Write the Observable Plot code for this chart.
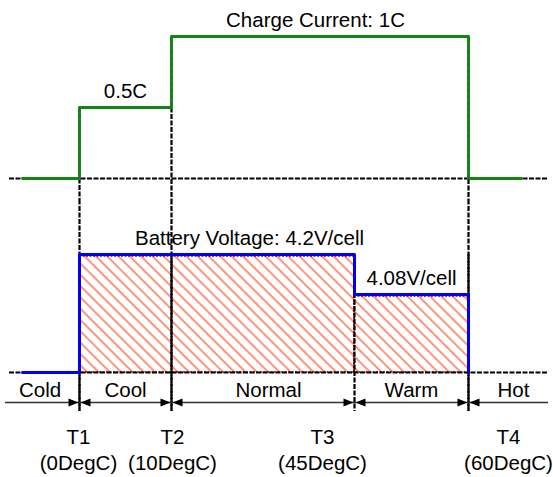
<!DOCTYPE html>
<html>
<head>
<meta charset="utf-8">
<script src="https://cdn.jsdelivr.net/npm/d3@7"></script>
<script src="https://cdn.jsdelivr.net/npm/@observablehq/plot@0.6"></script>
<style>
  html, body { margin: 0; padding: 0; background: #fff; }
  #chart svg { display: block; }
</style>
</head>
<body>
<div id="chart"></div>
<script>
// ---- data ----
const boundaryNames = ["T1", "T2", "T3", "T4"];
const boundaryTemps = [0, 10, 45, 60];               // DegC
const zoneNames = ["Cold", "Cool", "Normal", "Warm", "Hot"];

const currentTemps  = [-10, 0, 10, 60, 70];
const currentValues = [0, 0.5, 1, 0, 0];             // C-rate
const currentLabels = ["", "0.5C", "Charge Current: 1C", "", ""];

const voltageTemps  = [-10, 0, 45, 60];
const voltageValues = [0, 4.2, 4.08, 0];             // V/cell
const voltageLabels = ["", "Battery Voltage: 4.2V/cell", "4.08V/cell", ""];

// ---- derived tables ----
const W = 553;
const xOpts = {type: "linear", domain: [-10, 0, 10, 45, 60, 70], range: [22, 79, 171, 354, 468, 521]};
const xs = Plot.scale({x: xOpts});

const currentPts = currentTemps.map((t, i) => ({t, c: currentValues[i]}));
const currentSegs = currentTemps.slice(0, -1).map((t, i) => ({from: t, to: currentTemps[i + 1], c: currentValues[i], label: currentLabels[i]})).filter(d => d.label);
const voltagePts = voltageTemps.map((t, i) => ({t, v: voltageValues[i]}));
const voltageSegs = voltageTemps.slice(0, -1).map((t, i) => ({from: t, to: voltageTemps[i + 1], v: voltageValues[i], label: voltageLabels[i]})).filter(d => d.v > 0);

function stepAt(ts, vs, t, strict) {
  let v = vs[0];
  ts.forEach((u, i) => { if (strict ? u < t : u <= t) v = vs[i]; });
  return v;
}
const bounds = boundaryTemps.map((t, i) => {
  const a = stepAt(currentTemps, currentValues, t, true), b = stepAt(currentTemps, currentValues, t, false);
  return {t, name: boundaryNames[i], changes: a !== b, top: Math.max(a, b)};
});
const currentBounds = bounds.filter(d => d.changes);
const vMax = d3.max(voltageValues);

// zone label centres (open ends run to the frame edges)
const edgesPx = [0, ...boundaryTemps.map(t => xs.apply(t)), W];
const zoneNudge = {Normal: 5.5, Hot: 2.5};
const zones = zoneNames.map((name, i) => ({name, x: xs.invert((edgesPx[i] + edgesPx[i + 1]) / 2 + (zoneNudge[name] || 0))}));
const labelNudge = {"Charge Current: 1C": -4.5, "Battery Voltage: 4.2V/cell": 32.5};
const segMid = d => xs.invert((xs.apply(d.from) + xs.apply(d.to)) / 2 + (labelNudge[d.label] || 0));
const tNudge = {T1: -1, T2: 1, T3: -32, T4: 40};

const dash = {stroke: "#000", strokeWidth: 2.2, strokeDasharray: "5,1.5"};
const font = "'Liberation Sans', Arial, Helvetica, sans-serif";
const fs = 20.5;
const green = "#138413", blue = "#0000ee";

const arrowRight = {draw(ctx) { ctx.moveTo(0, 0); ctx.lineTo(-10, -4); ctx.lineTo(-10, 4); ctx.closePath(); }};
const arrowLeft  = {draw(ctx) { ctx.moveTo(0, 0); ctx.lineTo(10, -4); ctx.lineTo(10, 4); ctx.closePath(); }};

// ---- top panel: charge current ----
const topPanel = Plot.plot({
  width: W, height: 200,
  marginTop: 0, marginBottom: 0, marginLeft: 5, marginRight: 5,
  style: {fontFamily: font, overflow: "hidden", background: "white"},
  x: {...xOpts, axis: null},
  y: {type: "linear", domain: [0, 1], range: [178, 36], axis: null},
  marks: [
    Plot.ruleY([0], {...dash, insetLeft: 4}),
    Plot.ruleX(currentBounds, {x: "t", y1: "top", y2: 0, ...dash, insetBottom: -40}),
    Plot.line(currentPts, {x: "t", y: "c", curve: "step-after", stroke: green, strokeWidth: 2.8}),
    Plot.text(currentSegs, {x: segMid, y: "c", text: "label", dy: -16, fontSize: fs, fill: "#000"})
  ]
});

// ---- bottom panel: battery voltage + temperature zones ----
const bottomPanel = Plot.plot({
  width: W, height: 277,
  marginTop: 0, marginBottom: 0, marginLeft: 5, marginRight: 5,
  style: {fontFamily: font, overflow: "hidden", background: "white"},
  x: {...xOpts, axis: null},
  y: {type: "linear", domain: [0, 4.08, 4.2], range: [172, 94, 54], axis: null},
  marks: [
    Plot.rect(voltageSegs, {x1: "from", x2: "to", y1: 0, y2: "v", fill: "url(#hatch)", stroke: "#8b0000", strokeWidth: 1.5, strokeDasharray: "2,1.5", insetTop: 2}),
    Plot.ruleY([0], {...dash, insetLeft: 4}),
    Plot.ruleX(bounds, {x: "t", y1: vMax, y2: 0, ...dash, insetBottom: -39}),
    Plot.ruleX(currentBounds, {x: "t", y1: vMax, y2: 0, ...dash, insetTop: -100, insetBottom: -39}),
    Plot.line(voltagePts, {x: "t", y: "v", curve: "step-after", stroke: blue, strokeWidth: 3}),
    Plot.ruleY([0], {dy: 30, stroke: "#333", strokeWidth: 1.3}),
    Plot.dot(bounds, {x: "t", y: 0, dy: 30, dx: -1, symbol: arrowRight, fill: "#000", stroke: "none"}),
    Plot.dot(bounds, {x: "t", y: 0, dy: 30, dx: 1, symbol: arrowLeft, fill: "#000", stroke: "none"}),
    Plot.text(zones, {x: "x", y: 0, dy: 18, text: "name", fontSize: fs, fill: "#000"}),
    Plot.text(voltageSegs, {x: segMid, y: "v", text: "label", dy: -16, fontSize: fs, fill: "#000"}),
    Plot.text(bounds, {
      x: d => xs.invert(xs.apply(d.t) + tNudge[d.name]),
      frameAnchor: "bottom", lineAnchor: "middle", dy: -29,
      text: d => `${d.name}\n(${d.t}DegC)`,
      lineHeight: 1.29, fontSize: fs, fill: "#000"
    })
  ]
});

// hatch pattern for the charging window
const defs = d3.select(bottomPanel).insert("defs", ":first-child");
const pat = defs.append("pattern")
  .attr("id", "hatch").attr("patternUnits", "userSpaceOnUse")
  .attr("width", 8).attr("height", 8).attr("patternTransform", "rotate(-45)");
pat.append("line").attr("x1", 4).attr("y1", -1).attr("x2", 4).attr("y2", 9)
  .attr("stroke", "#ff5a36").attr("stroke-width", 1.3);

document.getElementById("chart").append(topPanel, bottomPanel);
</script>
</body>
</html>
